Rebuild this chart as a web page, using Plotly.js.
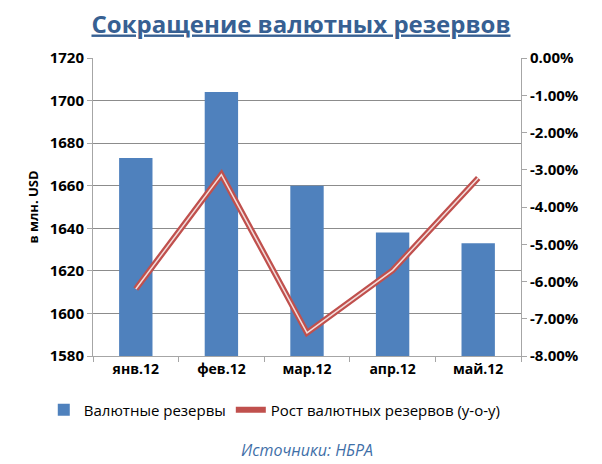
<!DOCTYPE html>
<html><head><meta charset="utf-8">
<script src="https://cdn.plot.ly/plotly-3.0.1.min.js"></script>
<style>html,body{margin:0;padding:0;background:#fff}</style>
</head><body>
<div id="chart" style="width:602px;height:464px"></div>
<script>
const categories = ["янв.12", "фев.12", "мар.12", "апр.12", "май.12"];
const reserves = [1673, 1704, 1660, 1638, 1633];
const growthPct = [-6.2, -3.13, -7.38, -5.7, -3.22];
const leftTicks = [1580, 1600, 1620, 1640, 1660, 1680, 1700, 1720];
const rightTicks = [0, -1, -2, -3, -4, -5, -6, -7, -8];
const rightTickText = rightTicks.map(v => v.toFixed(2) + '%');

const F = "'Open Sans', 'Noto Sans', sans-serif";
const traces = [
  {type:'bar', x:categories, y:reserves, name:'Валютные резервы', marker:{color:'#4F81BD'}, width:0.39, yaxis:'y'},
  {type:'scatter', mode:'lines', x:categories, y:growthPct, name:'Рост валютных резервов (y-o-y)', yaxis:'y2',
   line:{color:'#C0504D', width:6}},
  {type:'scatter', mode:'lines', x:categories, y:growthPct, showlegend:false, yaxis:'y2',
   line:{color:'#F2DCDB', width:1.5}, hoverinfo:'skip'}
];
const layout = {
  width:602, height:464, paper_bgcolor:'#fff', plot_bgcolor:'#fff',
  margin:{l:93, r:81, t:58, b:108, autoexpand:false},
  font:{family:F, color:'#000'},
  title:{text:'<u>Сокращение валютных резервов</u>', font:{family:F, size:24, color:'#376092', weight:700}, x:0.5, xanchor:'center', y:0.948, yanchor:'middle'},
  showlegend:true,
  legend:{orientation:'h', x:-0.115, xanchor:'left', y:-0.181, yanchor:'middle', itemwidth:30,
    font:{family:F, size:15, color:'#000'}, traceorder:'normal'},
  xaxis:{type:'category', tickson:'boundaries', ticks:'outside', ticklen:5, tickcolor:'#A6A6A6', showline:true, linecolor:'#A6A6A6', linewidth:1,
    tickfont:{family:F, size:14, color:'#000', weight:700}, showgrid:false, tickangle:0, automargin:false},
  yaxis:{range:[1580,1720], tickvals:leftTicks, ticks:'outside', ticklen:5, tickcolor:'#A6A6A6', showline:true, linecolor:'#A6A6A6',
    gridcolor:'#8C8C8C', gridwidth:1, zeroline:false, tickfont:{family:F, size:15, color:'#000', weight:700}, automargin:false,
    title:{text:'в млн. USD', font:{family:F, size:13, color:'#000', weight:700}, standoff:8}},
  yaxis2:{overlaying:'y', side:'right', range:[-8,0], tickvals:rightTicks, ticktext:rightTickText, ticks:'outside', ticklen:5,
    tickcolor:'#A6A6A6', showline:true, linecolor:'#A6A6A6', showgrid:false, zeroline:false, automargin:false,
    tickfont:{family:F, size:15, color:'#000', weight:700}},
  annotations:[{text:'<i>Источники: НБРА</i>', xref:'paper', yref:'paper', x:0.5, y:-0.315, xanchor:'center', yanchor:'middle', showarrow:false,
    font:{family:F, size:16, color:'#3F6FA8'}}]
};
Plotly.newPlot('chart', traces, layout, {displayModeBar:false, staticPlot:true});
</script>
</body></html>
